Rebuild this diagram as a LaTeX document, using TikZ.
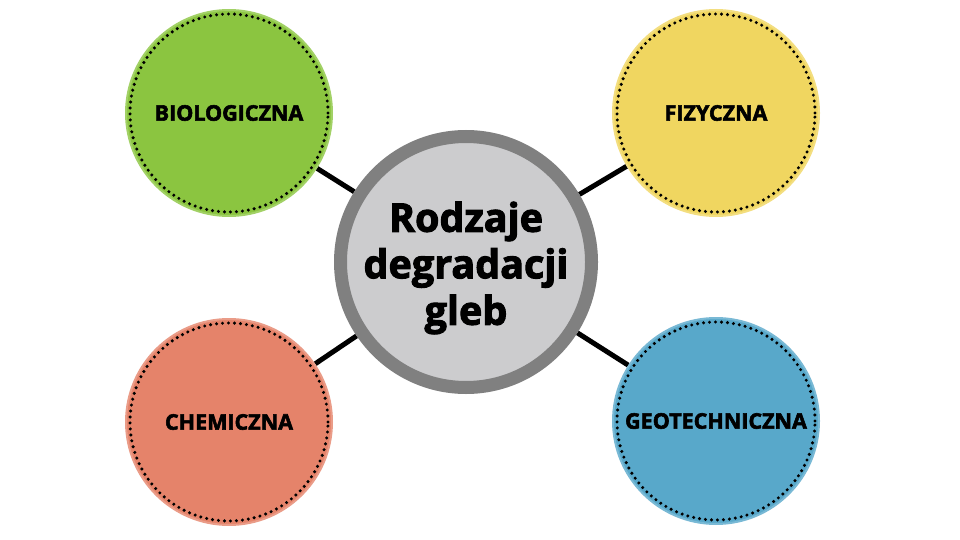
\documentclass[tikz,border=0pt]{standalone}
\usepackage{fontspec}
\setmainfont{Open Sans}[BoldFeatures={FakeBold=2.6}]
\usetikzlibrary{backgrounds}
\definecolor{biogreen}{HTML}{8BC540}
\definecolor{fizyellow}{HTML}{F0D660}
\definecolor{chemred}{HTML}{E5836A}
\definecolor{geoblue}{HTML}{58A8CA}
\definecolor{ringgray}{HTML}{808080}
\definecolor{coregray}{HTML}{CCCCCE}
\tikzset{
	kind/.style={circle, inner sep=0pt, minimum size=206pt, line width=2pt, fill=#1, draw=#1!80!white,
		font=\bfseries\fontsize{21.5}{25}\selectfont},
	dots/.style={line width=3.4pt, line cap=round, dash pattern=on 0pt off 6pt},
	link/.style={line width=5pt}
}
\begin{document}
\begin{tikzpicture}[x=1pt,y=-1pt]
	\useasboundingbox (0,0) rectangle (960,540);
	\def\dotr{99pt}
	% centre
		\node (core) [circle, inner sep=0pt, minimum size=251pt, fill=coregray, draw=ringgray, line width=13pt] at (466,262) {};
		\node (title) [align=center, font=\bfseries\fontsize{39.5}{46.5}\selectfont] at ([yshift=-6pt]core.center) {Rodzaje\\degradacji\\gleb};
	% kinds
		\node (bio) [kind=biogreen] at (229,113) {BIOLOGICZNA};
		\node (fiz) [kind=fizyellow] at (716,113) {FIZYCZNA};
		\node (chem) [kind=chemred] at (229,422) {CHEMICZNA};
		\node (geo) [kind=geoblue] at (716,421) {GEOTECHNICZNA};
	% dotted rings
		\foreach \n in {bio,fiz,chem,geo}
			\draw [dots] (\n.center) circle (\dotr);
	% links
	\begin{scope}[on background layer]
		\foreach \n in {bio,fiz,chem,geo}
			\draw [link] (\n) -- (core);
	\end{scope}
\end{tikzpicture}
\end{document}
